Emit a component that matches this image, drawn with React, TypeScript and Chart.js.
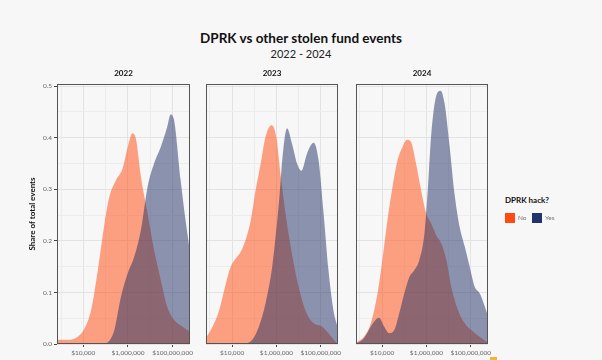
import React, { useEffect, useRef } from "react";
import { Chart, registerables } from "chart.js";

Chart.register(...registerables);

// ---------- data (x = log10 of stolen amount in USD, y = share of events) ----------
const PANEL_YEARS = ["2022", "2023", "2024"];
const SERIES_NAMES = ["No", "Yes"];
const X_TICK_EXPONENTS = [3, 4, 5, 6, 7, 8];
const X_TICK_LABELS: Record<number, string> = { 4: "$10,000", 6: "$1,000,000", 8: "$100,000,000" };
const Y_TICKS = [0, 0.05, 0.1, 0.15, 0.2, 0.25, 0.3, 0.35, 0.4, 0.45, 0.5];

const X_2022_NO = [2.82, 3.3, 3.75, 4.05, 4.35, 4.65, 4.95, 5.17, 5.47, 5.76, 5.99, 6.2, 6.36, 6.58, 6.88, 7.17, 7.47, 7.76, 8.06, 8.43, 8.78];
const Y_2022_NO = [0.008, 0.008, 0.014, 0.03, 0.066, 0.143, 0.234, 0.286, 0.318, 0.34, 0.382, 0.408, 0.397, 0.324, 0.253, 0.182, 0.124, 0.072, 0.047, 0.034, 0.024];
const X_2022_YES = [5.0, 5.2, 5.39, 5.69, 5.99, 6.28, 6.58, 6.88, 7.17, 7.47, 7.76, 7.91, 8.06, 8.36, 8.58, 8.78];
const Y_2022_YES = [0, 0.008, 0.027, 0.092, 0.137, 0.169, 0.221, 0.305, 0.35, 0.382, 0.421, 0.445, 0.435, 0.318, 0.24, 0.179];

const X_2023_NO = [2.82, 3.12, 3.42, 3.72, 3.94, 4.17, 4.39, 4.61, 4.84, 5.06, 5.29, 5.51, 5.78, 5.99, 6.18, 6.41, 6.7, 7.0, 7.3, 7.68, 8.05, 8.35, 8.72, 8.78];
const Y_2023_NO = [0.012, 0.034, 0.066, 0.118, 0.15, 0.166, 0.179, 0.202, 0.24, 0.298, 0.35, 0.402, 0.424, 0.402, 0.331, 0.253, 0.175, 0.111, 0.066, 0.04, 0.034, 0.021, 0.002, 0];
const X_2023_YES = [4.6, 4.91, 5.21, 5.51, 5.81, 6.11, 6.29, 6.48, 6.7, 6.93, 7.13, 7.38, 7.68, 7.9, 8.13, 8.35, 8.57, 8.78];
const Y_2023_YES = [0, 0.008, 0.034, 0.079, 0.15, 0.273, 0.369, 0.418, 0.389, 0.35, 0.336, 0.369, 0.39, 0.357, 0.253, 0.143, 0.066, 0.03];

const X_2024_NO = [2.8, 3.18, 3.49, 3.79, 4.01, 4.24, 4.47, 4.7, 4.92, 5.12, 5.3, 5.53, 5.76, 5.99, 6.21, 6.44, 6.67, 6.9, 7.12, 7.42, 7.73, 8.1, 8.49, 8.78];
const Y_2024_NO = [0.002, 0.014, 0.04, 0.098, 0.163, 0.24, 0.305, 0.357, 0.382, 0.396, 0.392, 0.35, 0.298, 0.253, 0.234, 0.211, 0.195, 0.163, 0.111, 0.066, 0.04, 0.024, 0.011, 0.002];
const X_2024_YES = [2.8, 3.18, 3.49, 3.71, 3.86, 4.09, 4.32, 4.55, 4.77, 5.0, 5.23, 5.45, 5.68, 5.91, 6.06, 6.21, 6.4, 6.64, 6.82, 7.05, 7.27, 7.5, 7.73, 7.95, 8.18, 8.41, 8.64, 8.78];
const Y_2024_YES = [0, 0.011, 0.034, 0.047, 0.051, 0.034, 0.021, 0.027, 0.059, 0.098, 0.13, 0.143, 0.163, 0.214, 0.298, 0.402, 0.473, 0.491, 0.466, 0.382, 0.291, 0.227, 0.189, 0.15, 0.111, 0.098, 0.072, 0.053];

const PANEL_SERIES = [
  { noX: X_2022_NO, noY: Y_2022_NO, yesX: X_2022_YES, yesY: Y_2022_YES },
  { noX: X_2023_NO, noY: Y_2023_NO, yesX: X_2023_YES, yesY: Y_2023_YES },
  { noX: X_2024_NO, noY: Y_2024_NO, yesX: X_2024_YES, yesY: Y_2024_YES },
];

// ---------- styling / layout ----------
const BG = "#F7F7F7";
const FONT = "Lato, 'Noto Sans', sans-serif";
const NO_FILL = "rgba(255,72,10,0.5)";
const YES_FILL = "rgba(30,45,100,0.5)";
const NO_KEY = "#FF4A12";
const YES_KEY = "#22346E";
const X_MIN = 2.82;
const X_MAX = 8.78;
const Y_MAX = 0.504;

// chart-area left / right for each panel (page pixels)
const PANEL_AREA = [
  { left: 57, right: 190 },
  { left: 206, right: 338 },
  { left: 356, right: 488 },
];
const CANVAS_TOP = 60;
const CANVAS_HEIGHT = 300;
const AREA_TOP_PAD = 24;
const X_AXIS_HEIGHT = 16;
const RIGHT_PAD = 12;

const framePlugin = {
  id: "frame",
  afterDraw(chart: any, _args: any, opts: any) {
    const { ctx, chartArea: a } = chart;
    ctx.save();
    ctx.strokeStyle = "#555555";
    ctx.lineWidth = 1;
    const l = Math.round(a.left) + 0.5;
    const t = Math.round(a.top) + 0.5;
    const r = Math.round(a.right) - 0.5;
    const b = Math.round(a.bottom) - 0.5;
    ctx.strokeRect(l, t, r - l, b - t);
    ctx.fillStyle = "#111";
    ctx.font = `bold 8px ${FONT}`;
    ctx.textAlign = "center";
    ctx.textBaseline = "middle";
    ctx.fillText(opts.title, (a.left + a.right) / 2, 13);
    ctx.restore();
  },
};

const isMajorY = (v: number) => Math.abs(v * 10 - Math.round(v * 10)) < 1e-6;
const isMajorX = (v: number) => X_TICK_LABELS[v] !== undefined;

function Panel({ index }: { index: number }) {
  const ref = useRef<HTMLCanvasElement | null>(null);
  const area = PANEL_AREA[index];
  const first = index === 0;
  const canvasLeft = first ? 0 : area.left - 10;
  const padLeft = first ? 0 : 10;
  const yWidth = first ? area.left : 0;
  const width = area.right + RIGHT_PAD - canvasLeft;

  useEffect(() => {
    const s = PANEL_SERIES[index];
    const toPts = (xs: number[], ys: number[]) => xs.map((x, i) => ({ x, y: ys[i] }));
    const common = {
      fill: "origin",
      borderColor: "rgba(0,0,0,0)",
      borderWidth: 0,
      pointRadius: 0,
      pointHoverRadius: 0,
      cubicInterpolationMode: "monotone",
    };
    const chart = new Chart(ref.current as HTMLCanvasElement, {
      type: "line",
      data: {
        datasets: [
          { ...common, label: SERIES_NAMES[1], data: toPts(s.yesX, s.yesY), backgroundColor: YES_FILL },
          { ...common, label: SERIES_NAMES[0], data: toPts(s.noX, s.noY), backgroundColor: NO_FILL },
        ],
      } as any,
      options: {
        animation: false,
        responsive: false,
        maintainAspectRatio: false,
        events: [],
        layout: { padding: { left: padLeft, right: RIGHT_PAD, top: AREA_TOP_PAD, bottom: 0 } },
        plugins: {
          legend: { display: false },
          tooltip: { enabled: false },
          frame: { title: PANEL_YEARS[index] },
        } as any,
        scales: {
          x: {
            type: "linear",
            min: X_MIN,
            max: X_MAX,
            afterBuildTicks: (sc: any) => {
              sc.ticks = X_TICK_EXPONENTS.map((v) => ({ value: v }));
            },
            afterFit: (sc: any) => {
              sc.height = X_AXIS_HEIGHT;
            },
            ticks: {
              autoSkip: false,
              maxRotation: 0,
              minRotation: 0,
              padding: 2,
              color: "#666",
              font: { family: FONT, size: 6.5 },
              callback: (v: any) => X_TICK_LABELS[v] ?? "",
            },
            grid: {
              color: (c: any) => (c.tick && isMajorX(c.tick.value) ? "#E3E3E3" : "#ECECEC"),
              lineWidth: 1,
              tickLength: 3,
              tickColor: (c: any) => (c.tick && isMajorX(c.tick.value) ? "#444" : "rgba(0,0,0,0)"),
            },
            border: { display: false },
          },
          y: {
            type: "linear",
            min: 0,
            max: Y_MAX,
            afterBuildTicks: (sc: any) => {
              sc.ticks = Y_TICKS.map((v) => ({ value: v }));
            },
            afterFit: (sc: any) => {
              sc.width = yWidth;
            },
            ticks: {
              display: first,
              padding: 2,
              color: "#666",
              font: { family: FONT, size: 6.5 },
              callback: (v: any) => (isMajorY(v) ? Number(v).toFixed(1) : ""),
            },
            title: {
              display: first,
              text: "Share of total events",
              color: "#111",
              font: { family: FONT, size: 8, weight: "bold" },
              padding: { top: 28, bottom: 0 },
            },
            grid: {
              color: (c: any) => (c.tick && isMajorY(c.tick.value) ? "#E3E3E3" : "#ECECEC"),
              lineWidth: 1,
              drawTicks: first,
              tickLength: 3,
              tickColor: (c: any) => (c.tick && isMajorY(c.tick.value) ? "#444" : "rgba(0,0,0,0)"),
            },
            border: { display: false },
          },
        },
      } as any,
      plugins: [framePlugin as any],
    });
    return () => chart.destroy();
  }, [index]);

  return (
    <canvas
      ref={ref}
      width={width}
      height={CANVAS_HEIGHT}
      style={{ position: "absolute", left: canvasLeft, top: CANVAS_TOP, width, height: CANVAS_HEIGHT }}
    />
  );
}

export default function App() {
  return (
    <div
      style={{
        position: "fixed",
        left: 0,
        top: 0,
        width: 602,
        height: 360,
        background: BG,
        overflow: "hidden",
        fontFamily: FONT,
      }}
    >
      <div
        style={{
          position: "absolute",
          left: 0,
          top: 30,
          width: 602,
          textAlign: "center",
          fontSize: 13.5,
          lineHeight: "17px",
          fontWeight: 700,
          color: "#111",
        }}
      >
        DPRK vs other stolen fund events
      </div>
      <div
        style={{
          position: "absolute",
          left: 0,
          top: 47,
          width: 602,
          textAlign: "center",
          fontSize: 11,
          lineHeight: "14px",
          color: "#222",
        }}
      >
        2022 - 2024
      </div>
      {PANEL_YEARS.map((_, i) => (
        <Panel key={i} index={i} />
      ))}
      <div
        style={{
          position: "absolute",
          left: 505,
          top: 195,
          fontSize: 8,
          lineHeight: "10px",
          fontWeight: 700,
          color: "#111",
          whiteSpace: "nowrap",
        }}
      >
        DPRK hack?
      </div>
      <div style={{ position: "absolute", left: 505, top: 213, width: 10, height: 10, background: NO_KEY }} />
      <div
        style={{ position: "absolute", left: 518, top: 213, fontSize: 6.5, lineHeight: "10px", color: "#777" }}
      >
        {SERIES_NAMES[0]}
      </div>
      <div style={{ position: "absolute", left: 532, top: 213, width: 10, height: 10, background: YES_KEY }} />
      <div
        style={{ position: "absolute", left: 545, top: 213, fontSize: 6.5, lineHeight: "10px", color: "#777" }}
      >
        {SERIES_NAMES[1]}
      </div>
      <div style={{ position: "absolute", left: 490, top: 357, width: 7, height: 3, background: "#F2B630" }} />
    </div>
  );
}
